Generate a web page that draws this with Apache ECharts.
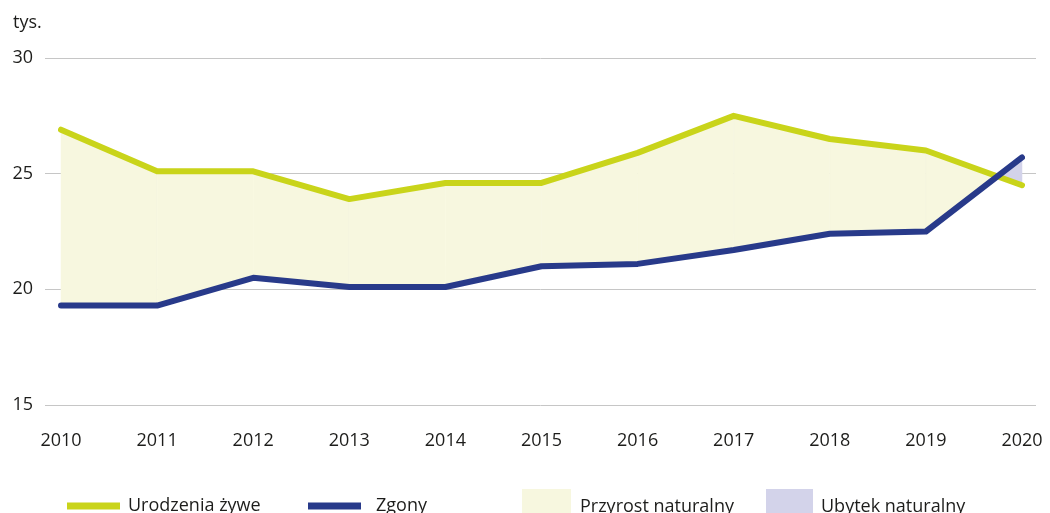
<!DOCTYPE html>
<html>
<head>
<meta charset="utf-8">
<script src="https://cdn.jsdelivr.net/npm/echarts@6/dist/echarts.min.js"></script>
<style>html,body{margin:0;padding:0;background:#fff;}#c{width:1050px;height:513px;}</style>
</head>
<body>
<div id="c"></div>
<script>
const years = ['2010','2011','2012','2013','2014','2015','2016','2017','2018','2019','2020'];
const births = [26.9, 25.1, 25.1, 23.9, 24.6, 24.6, 25.9, 27.5, 26.5, 26.0, 24.5];
const deaths = [19.3, 19.3, 20.5, 20.1, 20.1, 21.0, 21.1, 21.7, 22.4, 22.5, 25.7];
const yTicks = [15, 20, 25, 30];
const names = ['Urodzenia żywe', 'Zgony', 'Przyrost naturalny', 'Ubytek naturalny'];

const GREEN = '#c9d41a', NAVY = '#283a8a', YEL = '#f7f7df', LAV = '#d3d3ea';
const FONT = '"Open Sans", "Noto Sans", sans-serif';
const TXT = '#1d1d1b';

function areaRender(sign, color) {
  return function (params, api) {
    const i = api.value(0);
    const A0 = api.coord([i, births[i]]), A1 = api.coord([i + 1, births[i + 1]]);
    const B0 = api.coord([i, deaths[i]]), B1 = api.coord([i + 1, deaths[i + 1]]);
    const d0 = births[i] - deaths[i], d1 = births[i + 1] - deaths[i + 1];
    const polys = [];
    if (d0 * d1 >= 0) {
      const s = (d0 + d1) >= 0 ? 1 : -1;
      if (s === sign) polys.push([A0, A1, B1, B0]);
    } else {
      const t = d0 / (d0 - d1);
      const X = [A0[0] + t * (A1[0] - A0[0]), A0[1] + t * (A1[1] - A0[1])];
      if ((d0 > 0 ? 1 : -1) === sign) polys.push([A0, X, B0]);
      if ((d1 > 0 ? 1 : -1) === sign) polys.push([X, A1, B1]);
    }
    return {
      type: 'group',
      children: polys.map(p => ({ type: 'polygon', shape: { points: p }, style: { fill: color, stroke: color, lineWidth: 0.5 } }))
    };
  };
}

const segs = years.slice(0, -1).map((_, i) => [i]);

const chart = echarts.init(document.getElementById('c'));
function lg(left, top, w, h, name, padLeft) {
  return { orient: 'horizontal', padding: 0, selectedMode: false, left: left, top: top,
    itemWidth: w, itemHeight: h, data: [{ name: name, icon: 'rect' }],
    textStyle: { fontSize: 18, fontFamily: FONT, color: TXT, padding: [0, 0, 0, padLeft] } };
}
chart.setOption({
  animation: false,
  graphic: [{ type: 'text', left: 13, top: 14, style: { text: 'tys.', fontSize: 18, fontFamily: FONT, fill: TXT } }],
  grid: [
    { left: 45, right: 14, top: 58, bottom: 108 },
    { left: 61, right: 28, top: 58, bottom: 108 }
  ],
  xAxis: [
    { gridIndex: 0, type: 'value', min: 0, max: 1, show: false },
    { gridIndex: 1, type: 'category', data: years, boundaryGap: false,
      axisLine: { show: false }, axisTick: { show: false }, splitLine: { show: false },
      axisLabel: { margin: 27, fontSize: 18, fontFamily: FONT, color: TXT, interval: 0 } }
  ],
  yAxis: [
    { gridIndex: 0, type: 'value', min: yTicks[0], max: yTicks[yTicks.length - 1], interval: 5,
      axisLine: { show: false }, axisTick: { show: false },
      splitLine: { lineStyle: { color: '#c6c6c6', width: 1 } },
      axisLabel: { margin: 12, fontSize: 18, fontFamily: FONT, color: TXT } },
    { gridIndex: 1, type: 'value', min: 15, max: 30, show: false, splitLine: { show: false } }
  ],
  legend: [
    lg(67, 497, 53, 7, names[0], 3),
    lg(308, 497, 53, 7, names[1], 10),
    lg(522, 489, 49, 36, names[2], 4),
    lg(766, 489, 47, 36, names[3], 3)
  ],
  series: [
    { name: names[2], type: 'custom', xAxisIndex: 1, yAxisIndex: 1, data: segs, z: 1, silent: true,
      itemStyle: { color: YEL }, renderItem: areaRender(1, YEL), encode: { x: 0 } },
    { name: names[3], type: 'custom', xAxisIndex: 1, yAxisIndex: 1, data: segs, z: 1, silent: true,
      itemStyle: { color: LAV }, renderItem: areaRender(-1, LAV), encode: { x: 0 } },
    { name: names[0], type: 'line', xAxisIndex: 1, yAxisIndex: 1, data: births, symbol: 'none', z: 3,
      itemStyle: { color: GREEN }, lineStyle: { color: GREEN, width: 6, cap: 'round', join: 'round' } },
    { name: names[1], type: 'line', xAxisIndex: 1, yAxisIndex: 1, data: deaths, symbol: 'none', z: 4,
      itemStyle: { color: NAVY }, lineStyle: { color: NAVY, width: 6, cap: 'round', join: 'round' } }
  ]
});
</script>
</body>
</html>
